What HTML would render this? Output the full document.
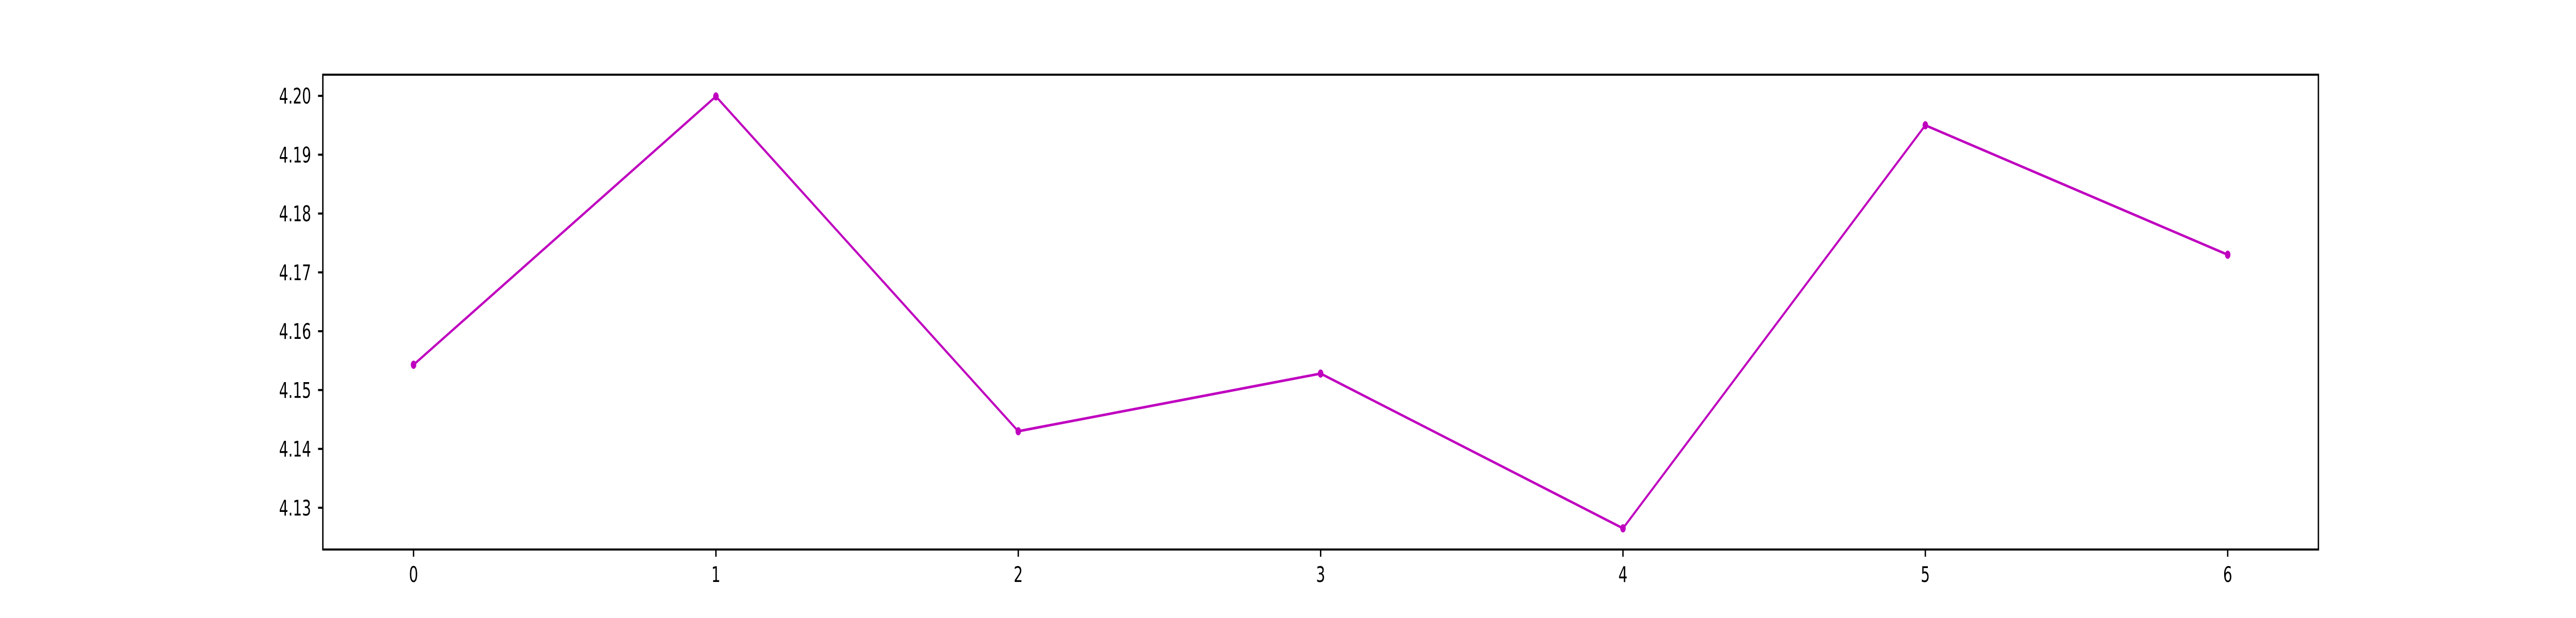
<!DOCTYPE html>
<html><head><meta charset="utf-8"><style>
html,body{margin:0;padding:0;background:#fff;overflow:hidden;width:100%;height:100%;}
svg{display:block;width:100vw;height:100vh;}
text{font-family:"DejaVu Sans","Liberation Sans",sans-serif;font-size:42px;fill:#000;}
</style></head><body>
<svg id="chart" viewBox="0 0 7500 1200" preserveAspectRatio="none" xmlns="http://www.w3.org/2000/svg">
<rect width="7500" height="1200" fill="#fff"/>
</svg>
<script>
const categories = [0, 1, 2, 3, 4, 5, 6];
const seriesValues = [4.1543, 4.1999, 4.1430, 4.1528, 4.1265, 4.1950, 4.1730];
const yTickLabels = ["4.13", "4.14", "4.15", "4.16", "4.17", "4.18", "4.19", "4.20"];
const xTickLabels = ["0", "1", "2", "3", "4", "5", "6"];

const L = 940, R = 6750, T = 145, B = 1067;
const xMin = -0.3, xMax = 6.3, yMin = 4.1229, yMax = 4.2036;
function xs(v){ return L + (v - xMin) / (xMax - xMin) * (R - L); }
function ys(v){ return B - (v - yMin) / (yMax - yMin) * (B - T); }
const NS = "http://www.w3.org/2000/svg";
const svg = document.getElementById('chart');
function mk(tag, attrs){ const e = document.createElementNS(NS, tag); for (const k in attrs) e.setAttribute(k, attrs[k]); svg.appendChild(e); return e; }

yTickLabels.forEach(function(lbl){
  const y = ys(parseFloat(lbl));
  const t = mk('line', {x1: L - 14, x2: L, y1: y, y2: y, stroke: '#000', 'stroke-width': 4});
  
  
  const tx = mk('text', {x: 906, y: y + 15, 'text-anchor': 'end'});
  tx.textContent = lbl;
  
  
});
xTickLabels.forEach(function(lbl){
  const x = xs(parseFloat(lbl));
  const t = mk('line', {x1: x, x2: x, y1: B, y2: B + 14, stroke: '#000', 'stroke-width': 4});
  
  
  const tx = mk('text', {x: x, y: 1130, 'text-anchor': 'middle'});
  tx.textContent = lbl;
  
  
});
const pts = categories.map(function(c, i){ return xs(c) + ',' + ys(seriesValues[i]); }).join(' ');
const pl = mk('polyline', {points: pts, fill: 'none', stroke: '#bf00bf', 'stroke-width': 5, 'stroke-linejoin': 'round'});


categories.forEach(function(c, i){
  const p = mk('circle', {cx: xs(c), cy: ys(seriesValues[i]), r: 8, fill: '#bf00bf'});
  
  
});
const fr = mk('rect', {x: L, y: T, width: R - L, height: B - T, fill: 'none', stroke: '#000', 'stroke-width': 4});


</script>
</body></html>
